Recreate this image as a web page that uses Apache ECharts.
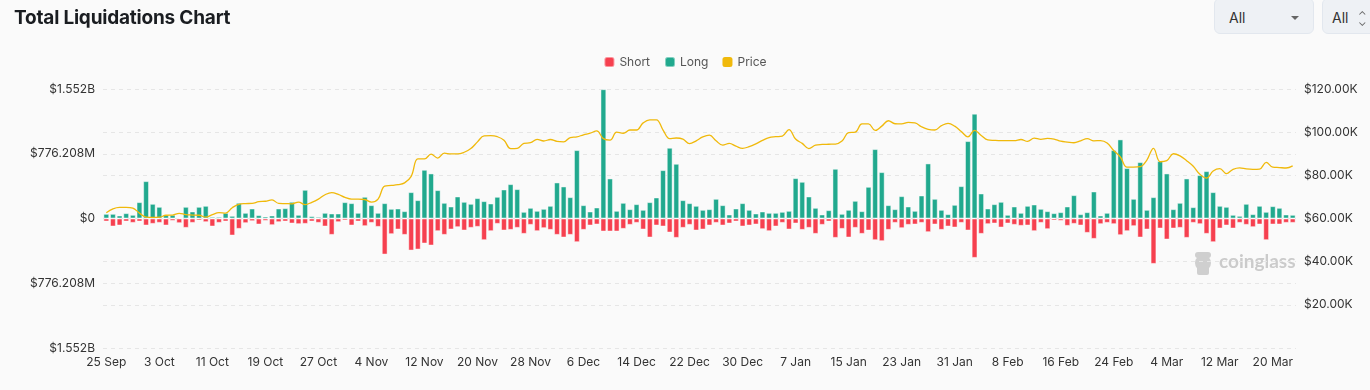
<!DOCTYPE html>
<html>
<head>
<meta charset="utf-8">
<script src="https://cdn.jsdelivr.net/npm/echarts@6/dist/echarts.min.js"></script>
<style>
  html, body { margin: 0; padding: 0; background: #fafafa; width: 1370px; height: 390px; overflow: hidden; font-family: Inter, "Noto Sans", sans-serif; }
  #title { position: absolute; left: 14px; top: 6px; font-size: 19px; font-weight: 700; color: #1a1d21; letter-spacing: -0.2px; }
  .sel { position: absolute; top: -2px; height: 36px; background: #eef1f5; border: 1px solid #e2e7ee; border-radius: 6px; box-sizing: border-box; font-size: 14px; color: #333; line-height: 38px; }
  #sel1 { left: 1214px; width: 100px; padding-left: 14px; }
  #sel1 .caret { position: absolute; right: 14px; top: 17px; width: 0; height: 0; border-left: 4px solid transparent; border-right: 4px solid transparent; border-top: 4px solid #666; }
  #sel2 { left: 1322px; width: 60px; padding-left: 9px; }
  #sel2 .ud { position: absolute; left: 35px; top: 0; font-size: 11px; color: #666; line-height: 11px; }
  #chart { position: absolute; left: 0; top: 0; width: 1370px; height: 390px; }
</style>
</head>
<body>
<div id="chart"></div>
<div id="title">Total Liquidations Chart</div>
<div class="sel" id="sel1">All<span class="caret"></span></div>
<div class="sel" id="sel2">All<span class="ud" style="top:11px">&#8963;</span><span class="ud" style="top:18px">&#8964;</span></div>
<script>
// ---- data ----
var startDate = [2024, 8, 25]; // 25 Sep 2024 (month 0-based)
var dayCount = 180;
var monthNames = ['Jan','Feb','Mar','Apr','May','Jun','Jul','Aug','Sep','Oct','Nov','Dec'];
var categories = [];
(function () {
  var d0 = Date.UTC(startDate[0], startDate[1], startDate[2]);
  for (var i = 0; i < dayCount; i++) {
    var d = new Date(d0 + i * 86400000);
    categories.push(d.getUTCDate() + ' ' + monthNames[d.getUTCMonth()]);
  }
})();

// Long liquidations (USD millions)
var longM = [
  56,56,36,64,44,196,448,176,140,44,44,12,140,84,140,152,20,20,68,32,188,68,120,40,24,36,120,124,200,44,
  344,28,20,68,60,60,196,184,68,260,160,68,184,116,120,88,316,220,584,540,340,188,144,264,200,176,244,208,180,260,
  348,412,352,80,128,92,116,152,432,384,256,820,160,84,132,1550,480,92,188,112,172,104,196,252,580,848,656,220,184,152,
  104,112,236,160,48,120,184,104,60,84,68,68,80,92,484,440,264,128,48,100,596,56,104,212,88,380,832,556,160,112,
  268,144,92,276,660,236,104,52,164,388,928,1256,300,120,172,200,44,144,68,152,168,116,88,64,76,144,280,52,76,324,
  36,68,820,948,604,236,676,104,256,688,540,112,188,480,136,520,568,316,152,140,44,32,176,52,152,80,148,128,48,44
];
// Short liquidations (USD millions)
var shortM = [
  36,96,84,36,52,36,84,64,52,84,28,56,112,52,24,44,96,52,36,204,124,56,32,72,28,80,44,36,60,68,
  64,36,52,96,196,44,24,84,36,92,52,100,432,188,132,196,384,372,300,324,152,196,132,104,144,112,100,260,152,64,
  144,136,112,184,76,152,116,136,196,228,196,284,136,84,72,156,156,156,124,76,52,132,228,84,96,168,232,112,76,144,
  132,84,52,84,60,36,96,84,72,128,152,96,52,132,60,136,112,184,76,36,232,124,228,112,184,144,260,272,136,52,
  116,76,72,52,164,72,136,96,108,52,144,472,184,68,60,108,60,76,88,84,152,52,128,24,28,88,64,84,172,244,
  68,52,68,200,152,92,228,132,544,120,252,120,112,232,52,68,184,284,120,84,120,52,76,104,72,260,72,72,52,52
];
// BTC price (USD thousands)
var priceK = [
  62.7,64.5,65.2,65.2,64.8,62.5,60.6,60.5,60.6,61.5,61.6,62.4,61.8,61.6,61.5,60.6,61.8,62.7,62.5,65.0,66.6,66.9,67.0,67.8,68.0,68.6,67.0,66.9,66.8,67.6,
  66.4,67.5,69.0,71.0,72.0,71.2,69.8,69.0,69.0,68.8,67.6,69.0,75.0,75.3,75.7,76.5,79.5,87.6,87.6,89.8,88.0,90.3,89.9,89.9,90.7,92.4,95.5,98.3,98.4,97.9,
  96.3,92.4,92.5,94.8,95.1,96.7,95.9,96.6,95.7,95.5,97.5,97.8,98.8,99.5,100.6,97.0,96.3,100.0,99.5,101.0,101.0,104.3,105.7,105.7,101.0,97.0,97.3,96.8,94.7,96.0,
  97.8,98.6,96.0,94.0,94.8,93.5,92.5,93.3,94.6,96.2,97.5,97.9,98.2,101.2,96.8,94.8,92.4,94.0,94.3,94.4,94.5,95.9,99.8,100.0,103.8,103.8,100.8,102.8,105.3,103.9,
  103.8,104.5,104.3,102.5,101.3,101.0,103.0,104.1,102.8,100.3,97.8,100.8,98.5,96.4,96.2,96.1,96.1,96.1,96.6,95.7,97.2,96.7,97.1,96.8,95.8,95.4,95.1,96.0,97.0,96.0,
  96.1,95.0,91.5,88.5,83.8,83.8,84.0,87.1,92.5,86.3,86.8,90.0,89.0,86.8,84.2,80.5,78.7,82.0,83.1,80.8,82.8,83.5,83.0,82.8,82.9,86.0,83.8,83.6,83.4,84.4
];
var leftMax = 1552416000;      // $1.552B
var leftInterval = 776208000;  // $776.208M

var longData = longM.map(function (v) { return v * 1e6; });
var shortData = shortM.map(function (v) { return -v * 1e6; });
var priceData = priceK.map(function (v) { return v * 1000; });

function fmtLeft(v) {
  var a = Math.abs(v);
  if (a < 1) return '$0';
  if (a >= 1e9) return '$' + (a / 1e9).toFixed(3) + 'B';
  return '$' + (a / 1e6).toFixed(3) + 'M';
}
function fmtRight(v) {
  if (v === 0) return '';
  return '$' + (v / 1000).toFixed(2) + 'K';
}

var chart = echarts.init(document.getElementById('chart'), null, { renderer: 'canvas' });
var labelStyle = { color: '#333', fontSize: 12, fontFamily: 'Inter, "Noto Sans", sans-serif' };
chart.setOption({
  backgroundColor: '#fafafa',
  animation: false,
  legend: {
    top: 51, left: 'center',
    itemWidth: 10, itemHeight: 10, itemGap: 14,
    textStyle: { color: '#555', fontSize: 12, fontFamily: 'Inter, "Noto Sans", sans-serif' },
    data: [
      { name: 'Short', icon: 'roundRect' },
      { name: 'Long', icon: 'roundRect' },
      { name: 'Price', icon: 'roundRect' }
    ]
  },
  grid: { left: 103, right: 74, top: 89, bottom: 42, containLabel: false },
  xAxis: {
    type: 'category', data: categories, boundaryGap: true,
    axisLine: { show: false }, axisTick: { show: false },
    axisLabel: Object.assign({ interval: 7, margin: 8 }, labelStyle),
    splitLine: { show: false }
  },
  yAxis: [
    {
      type: 'value', position: 'left', min: -leftMax, max: leftMax, interval: leftInterval,
      axisLine: { show: false }, axisTick: { show: false },
      axisLabel: Object.assign({ formatter: fmtLeft, margin: 8 }, labelStyle),
      splitLine: { show: true, lineStyle: { color: '#e6e6e6', type: [4, 4], width: 1 } }
    },
    {
      type: 'value', position: 'right', min: 0, max: 120000, interval: 20000,
      axisLine: { show: false }, axisTick: { show: false },
      axisLabel: Object.assign({ formatter: fmtRight, margin: 8 }, labelStyle),
      splitLine: { show: true, lineStyle: { color: '#e6e6e6', type: [4, 4], width: 1 } }
    }
  ],
  series: [
    {
      name: 'Short', type: 'bar', yAxisIndex: 0, data: shortData,
      barGap: '-100%', barCategoryGap: '12%',
      itemStyle: { color: '#f6404f', borderColor: 'rgba(255,255,255,0.45)', borderWidth: 1 }
    },
    {
      name: 'Long', type: 'bar', yAxisIndex: 0, data: longData,
      barGap: '-100%', barCategoryGap: '12%',
      itemStyle: { color: '#21a98e', borderColor: 'rgba(255,255,255,0.45)', borderWidth: 1 }
    },
    {
      name: 'Price', type: 'line', yAxisIndex: 1, data: priceData,
      smooth: 0.4, showSymbol: false, symbol: 'none',
      lineStyle: { color: '#f0b90b', width: 1.3 },
      itemStyle: { color: '#f0b90b' },
      z: 5
    }
  ],
  graphic: [
    {
      type: 'group', left: 1195, top: 252, z: 1, silent: true,
      children: [
        { type: 'circle', shape: { cx: 11, cy: 13, r: 8 }, style: { fill: '#cfcfcf' } },
        { type: 'rect', shape: { x: 3, y: 2, width: 16, height: 6, r: 3 }, style: { fill: '#cfcfcf' } },
        { type: 'rect', shape: { x: 5, y: 16, width: 12, height: 9, r: 2 }, style: { fill: '#cfcfcf' } },
        { type: 'text', style: { x: 27, y: 12, text: 'coinglass', fill: '#cbcbcb', fontSize: 19, fontWeight: 700, fontFamily: 'Lato, "Noto Sans", sans-serif', verticalAlign: 'middle' } }
      ]
    }
  ]
});
</script>
</body>
</html>
